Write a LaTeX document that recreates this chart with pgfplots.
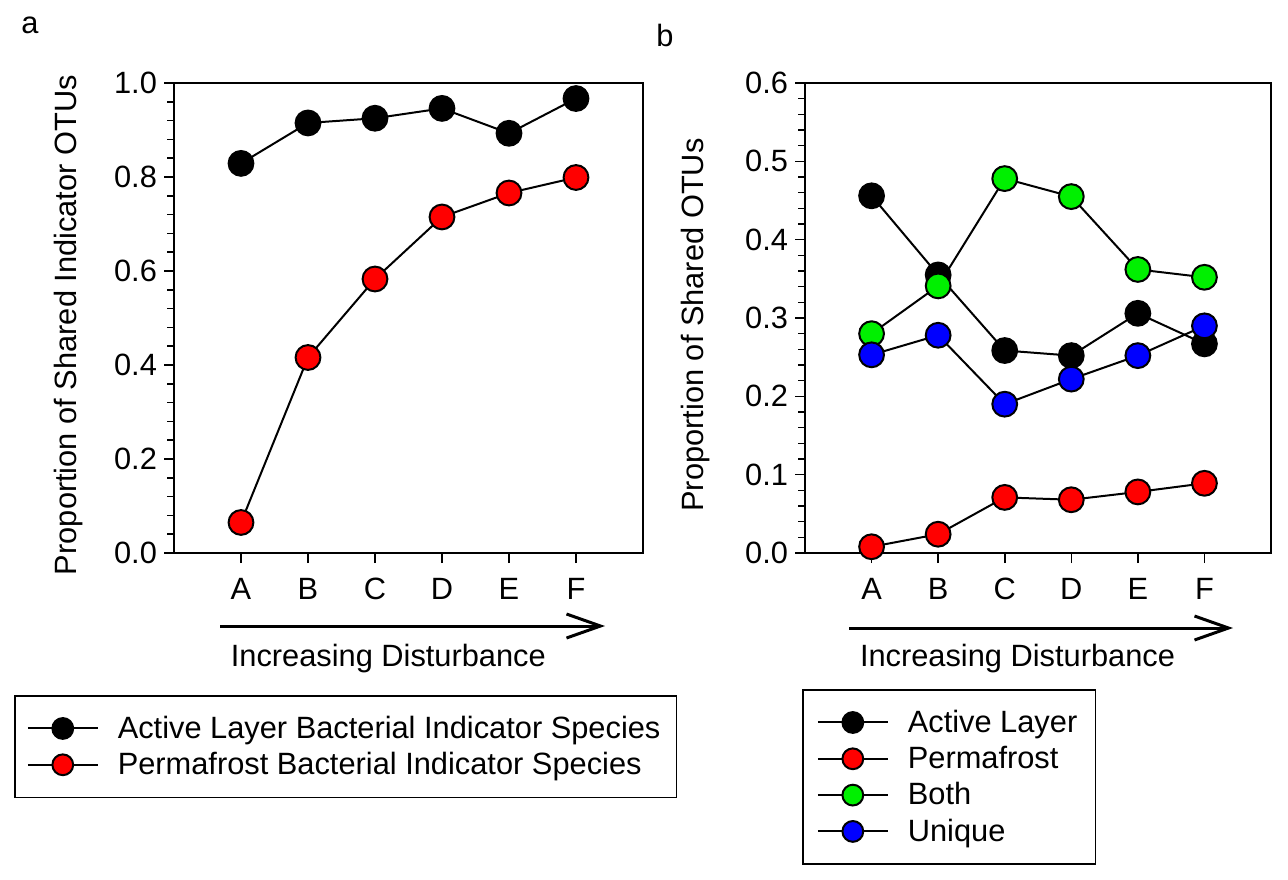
\documentclass[border=0pt]{standalone}
\usepackage{fontspec}
\setmainfont{Liberation Sans}
\usepackage{pgfplots}
\pgfplotsset{compat=1.18}
\usetikzlibrary{arrows.meta}
\definecolor{mygreen}{RGB}{0,240,0}
\definecolor{myblue}{RGB}{0,0,255}
\definecolor{myred}{RGB}{255,0,0}

\pgfplotsset{
  panel/.style={
    scale only axis,
    anchor=south west,
    height=235pt,
    xmin=-1, xmax=6,
    xtick={0,1,2,3,4,5},
    xticklabels={A,B,C,D,E,F},
    xtick pos=bottom, ytick pos=left,
    tick align=outside,
    major tick length=5pt,
    minor tick length=3.5pt,
    minor y tick num=4,
    axis line style={line width=1pt},
    every tick/.style={black, line width=0.8pt},
    /pgf/number format/assume math mode=true,
    yticklabel style={/pgf/number format/.cd,fixed,fixed zerofill,precision=1},
    xticklabel style={yshift=-4pt},
    legend cell align=left,
    legend style={draw=black, line width=0.8pt, inner xsep=6pt, inner ysep=8pt,
      column sep=7.5pt, row sep=1.5pt, anchor=north west,
      nodes={inner sep=2pt}},
    legend image code/.code={\draw[mark repeat=2,mark phase=2,##1,mark size=5.2pt] plot coordinates {(0pt,0pt) (17.5pt,0pt) (35pt,0pt)};},
    every axis plot/.append style={black, line width=1pt, mark=*, mark size=6.2pt,
      mark options={draw=black, line width=0.8pt}},
  }
}

\begin{document}
\begin{tikzpicture}[font=\fontsize{15.4pt}{18pt}\selectfont]
\path[use as bounding box] (0pt,0pt) rectangle (644pt,-439.5pt);

% Panel a
\begin{axis}[panel,
  at={(87pt,-276.5pt)}, width=234.5pt,
  ymin=0, ymax=1, ytick={0,0.2,0.4,0.6,0.8,1.0},
  ylabel={Proportion of Shared Indicator OTUs},
  ylabel style={at={(axis description cs:-0.224,0.485)}, anchor=center},
  xlabel={Increasing Disturbance},
  xlabel style={at={(axis description cs:0.457,-0.2404)}, anchor=base},
  legend style={at={(axis description cs:-0.3412,-0.3021)}},
]
\addplot[mark options={fill=black}] coordinates {(0,0.829) (1,0.915) (2,0.925) (3,0.946) (4,0.893) (5,0.967)};
\addlegendentry{Active Layer Bacterial Indicator Species}
\addplot[mark options={fill=myred}] coordinates {(0,0.065) (1,0.416) (2,0.583) (3,0.715) (4,0.766) (5,0.799)};
\addlegendentry{Permafrost Bacterial Indicator Species}
\end{axis}

% Panel b
\begin{axis}[panel,
  at={(402.5pt,-276.5pt)}, width=233pt,
  ymin=0, ymax=0.6, ytick={0,0.1,0.2,0.3,0.4,0.5,0.6},
  ylabel={Proportion of Shared OTUs},
  ylabel style={at={(axis description cs:-0.234,0.485)}, anchor=center},
  xlabel={Increasing Disturbance},
  xlabel style={at={(axis description cs:0.456,-0.2404)}, anchor=base},
  legend style={at={(axis description cs:-0.0064,-0.2894)}, inner xsep=7pt},
]
\addplot[mark options={fill=black}] coordinates {(0,0.456) (1,0.355) (2,0.2585) (3,0.252) (4,0.306) (5,0.267)};
\addlegendentry{Active Layer}
\addplot[mark options={fill=myred}] coordinates {(0,0.008) (1,0.024) (2,0.071) (3,0.068) (4,0.078) (5,0.089)};
\addlegendentry{Permafrost}
\addplot[mark options={fill=mygreen}] coordinates {(0,0.280) (1,0.341) (2,0.478) (3,0.455) (4,0.362) (5,0.352)};
\addlegendentry{Both}
\addplot[mark options={fill=myblue}] coordinates {(0,0.253) (1,0.278) (2,0.190) (3,0.222) (4,0.252) (5,0.290)};
\addlegendentry{Unique}
\end{axis}

% arrows
\draw[line width=1.5pt, -{Straight Barb[length=17pt,width=12pt,line width=1.5pt]}] (110pt,-313pt) -- (302.5pt,-313pt);
\draw[line width=1.5pt, -{Straight Barb[length=17pt,width=12pt,line width=1.5pt]}] (424.5pt,-314pt) -- (616.5pt,-314pt);

% panel letters
\node at (15pt,-12.5pt) {a};
\node at (332.5pt,-17.5pt) {b};
\end{tikzpicture}
\end{document}
